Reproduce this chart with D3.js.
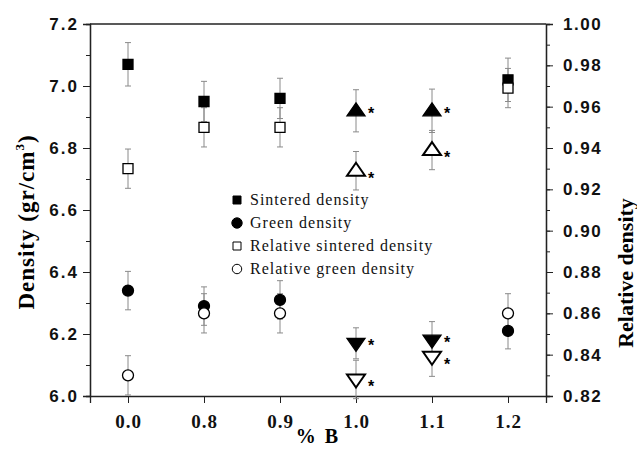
<!DOCTYPE html>
<html>
<head>
<meta charset="utf-8">
<script src="https://cdn.jsdelivr.net/npm/d3@7"></script>
<style>
  body { margin: 0; background: #fff; }
  svg { display: block; }
</style>
</head>
<body>
<svg width="637" height="449"></svg>
<script>
var categories = ["0.0", "0.8", "0.9", "1.0", "1.1", "1.2"];

// left axis (gr/cm3)
var sinteredDensity = [7.07, 6.95, 6.96, 6.92, 6.92, 7.02];
var greenDensity = [6.34, 6.29, 6.31, 6.17, 6.18, 6.21];
var densityErr = [0.07, 0.065, 0.065, 0.068, 0.07, 0.07];
var greenErr = [0.062, 0.062, 0.062, 0.05, 0.06, 0.058];

// right axis
var relSintered = [0.930, 0.950, 0.950, 0.929, 0.939, 0.969];
var relGreen = [0.830, 0.860, 0.860, 0.828, 0.839, 0.860];
var relErr = [0.0095, 0.0095, 0.0095, 0.0093, 0.0095, 0.0095];

// triangles mark the starred samples
var starred = [false, false, false, true, true, false];

var leftTicks = [6.0, 6.2, 6.4, 6.6, 6.8, 7.0, 7.2];
var rightTicks = [0.82, 0.84, 0.86, 0.88, 0.90, 0.92, 0.94, 0.96, 0.98, 1.00];

var legendLabels = ["Sintered density", "Green density", "Relative sintered density", "Relative green density"];

var svg = d3.select("svg");
var mLeft = 90, mRight = 546, mTop = 24, mBottom = 396;

var x = d3.scalePoint().domain(categories).range([mLeft, mRight]).padding(0.5);
var y = d3.scaleLinear().domain([6.0, 7.2]).range([mBottom, mTop]);
var y2 = d3.scaleLinear().domain([0.82, 1.0]).range([mBottom, mTop]);

var sansBold = "'Liberation Sans', Arial, sans-serif";
var serif = "'Liberation Serif', 'Times New Roman', serif";

// left axis
var gl = svg.append("g").attr("transform", "translate(" + mLeft + ",0)");
gl.call(d3.axisLeft(y).tickValues(d3.range(6.0, 7.21, 0.1)).tickSize(4).tickFormat(""));
var gl2 = svg.append("g").attr("transform", "translate(" + mLeft + ",0)");
gl2.call(d3.axisLeft(y).tickValues(leftTicks).tickSize(7).tickPadding(4).tickFormat(d3.format(".1f")));
gl2.selectAll("text").attr("font-family", sansBold).attr("font-weight", "bold")
  .attr("font-size", 17).attr("letter-spacing", 2).attr("fill", "#111");

// right axis
var gr = svg.append("g").attr("transform", "translate(" + mRight + ",0)");
gr.call(d3.axisRight(y2).tickValues(d3.range(0.82, 1.001, 0.01)).tickSize(4).tickFormat(""));
var gr2 = svg.append("g").attr("transform", "translate(" + mRight + ",0)");
gr2.call(d3.axisRight(y2).tickValues(rightTicks).tickSize(7).tickPadding(10).tickFormat(d3.format(".2f")));
gr2.selectAll("text").attr("font-family", sansBold).attr("font-weight", "bold")
  .attr("font-size", 17).attr("letter-spacing", 1.5).attr("fill", "#111");

// bottom axis
var gb = svg.append("g").attr("transform", "translate(0," + mBottom + ")");
gb.call(d3.axisBottom(x).tickSize(7).tickPadding(12));
gb.selectAll("text").attr("font-family", serif).attr("font-weight", "bold")
  .attr("font-size", 19).attr("letter-spacing", 1).attr("fill", "#111");

svg.selectAll(".domain").attr("stroke", "#222").attr("stroke-width", 1.3);
svg.selectAll(".tick line").attr("stroke", "#222");

// top frame
svg.append("line").attr("x1", mLeft).attr("x2", mRight).attr("y1", mTop).attr("y2", mTop)
  .attr("stroke", "#222").attr("stroke-width", 1.3);

// axis titles
svg.append("text")
  .attr("transform", "translate(34," + 222 + ") rotate(-90)")
  .attr("text-anchor", "middle")
  .attr("font-family", serif).attr("font-weight", "bold").attr("font-size", 23)
  .attr("letter-spacing", 1)
  .call(t => {
    t.append("tspan").text("Density (gr/cm");
    t.append("tspan").attr("dy", -10).attr("font-size", 13).text("3");
    t.append("tspan").attr("dy", 10).text(")");
  });
svg.append("text")
  .attr("transform", "translate(633," + 273 + ") rotate(-90)")
  .attr("text-anchor", "middle")
  .attr("font-family", serif).attr("font-weight", "bold").attr("font-size", 22)
  .text("Relative density");
svg.append("text")
  .attr("x", 318).attr("y", 443)
  .attr("text-anchor", "middle")
  .attr("font-family", serif).attr("font-weight", "bold").attr("font-size", 20)
  .attr("letter-spacing", 2)
  .text("% B");

// marker shapes
var sq = d3.symbol().type(d3.symbolSquare).size(100);
var circ = d3.symbol().type(d3.symbolCircle).size(95);
var triUp = "M0,-8 L9,5 L-9,5 Z";
var triDown = "M0,8 L9,-5 L-9,-5 Z";

var series = [
  { vals: sinteredDensity, err: densityErr, scale: y, filled: true, up: true, shape: sq },
  { vals: greenDensity, err: greenErr, scale: y, filled: true, up: false, shape: circ },
  { vals: relSintered, err: relErr, scale: y2, filled: false, up: true, shape: sq },
  { vals: relGreen, err: relErr, scale: y2, filled: false, up: false, shape: circ }
];

var errG = svg.append("g");
var markG = svg.append("g");

series.forEach(function (s) {
  var pts = categories.map(function (c, i) {
    return { c: c, v: s.vals[i], e: s.err[i], star: starred[i] };
  });

  var eb = errG.selectAll(null).data(pts).enter().append("g")
    .attr("stroke", "#8a8a8a").attr("stroke-width", 1);
  eb.append("line")
    .attr("x1", d => x(d.c)).attr("x2", d => x(d.c))
    .attr("y1", d => s.scale(d.v - d.e)).attr("y2", d => s.scale(d.v + d.e));
  eb.append("line")
    .attr("x1", d => x(d.c) - 3).attr("x2", d => x(d.c) + 3)
    .attr("y1", d => s.scale(d.v + d.e)).attr("y2", d => s.scale(d.v + d.e));
  eb.append("line")
    .attr("x1", d => x(d.c) - 3).attr("x2", d => x(d.c) + 3)
    .attr("y1", d => s.scale(d.v - d.e)).attr("y2", d => s.scale(d.v - d.e));

  markG.selectAll(null).data(pts).enter().append("path")
    .attr("transform", d => "translate(" + x(d.c) + "," + s.scale(d.v) + ")")
    .attr("d", d => d.star ? (s.up ? triUp : triDown) : s.shape())
    .attr("fill", s.filled ? "#000" : "#fff")
    .attr("stroke", "#000")
    .attr("stroke-width", d => d.star && !s.filled ? 2 : 1.3);

  markG.selectAll(null).data(pts.filter(d => d.star)).enter().append("text")
    .attr("x", d => x(d.c) + 12)
    .attr("y", d => s.scale(d.v) + (s.filled ? 8 : 13))
    .attr("font-family", sansBold).attr("font-weight", "bold").attr("font-size", 16)
    .text("*");
});

// legend
var legSym = [
  { shape: d3.symbol().type(d3.symbolSquare).size(64), fill: "#000" },
  { shape: d3.symbol().type(d3.symbolCircle).size(85), fill: "#000" },
  { shape: d3.symbol().type(d3.symbolSquare).size(64), fill: "#fff" },
  { shape: d3.symbol().type(d3.symbolCircle).size(70), fill: "#fff" }
];
var leg = svg.append("g");
var rows = leg.selectAll("g").data(legendLabels).enter().append("g")
  .attr("transform", (d, i) => "translate(237," + (200 + i * 23) + ")");
rows.append("path")
  .attr("d", (d, i) => legSym[i].shape())
  .attr("fill", (d, i) => legSym[i].fill)
  .attr("stroke", "#000").attr("stroke-width", 1);
rows.append("text")
  .attr("x", 13).attr("y", 5)
  .attr("font-family", serif).attr("font-size", 16).attr("letter-spacing", 1)
  .attr("fill", "#111")
  .text(d => d);
</script>
</body>
</html>
